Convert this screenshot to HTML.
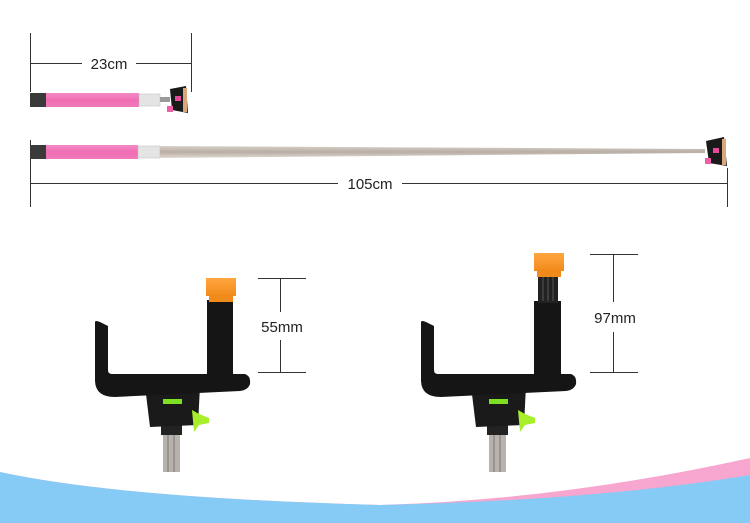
<!DOCTYPE html>
<html><head><meta charset="utf-8"><style>
html,body{margin:0;padding:0;background:#fff;}
svg{display:block;}
text{font-family:"Liberation Sans",sans-serif;fill:#222;}
</style></head><body>
<svg width="750" height="523" viewBox="0 0 750 523" xmlns="http://www.w3.org/2000/svg">
<defs>
<linearGradient id="rod" x1="0" y1="0" x2="0" y2="1"><stop offset="0" stop-color="#d8d0c8"/><stop offset="0.5" stop-color="#b8aea4"/><stop offset="1" stop-color="#e0d8d0"/></linearGradient>
<linearGradient id="pink" x1="0" y1="0" x2="0" y2="1"><stop offset="0" stop-color="#f58bc4"/><stop offset="0.5" stop-color="#ef6db4"/><stop offset="1" stop-color="#f07ab9"/></linearGradient>
<linearGradient id="org" x1="0" y1="0" x2="0" y2="1"><stop offset="0" stop-color="#ffa640"/><stop offset="1" stop-color="#f28a1a"/></linearGradient>
</defs>
<!-- top dimension 23cm -->
<g stroke="#333" stroke-width="1" fill="none">
<line x1="30.5" y1="33" x2="30.5" y2="92"/><line x1="191.5" y1="33" x2="191.5" y2="92"/>
<line x1="30" y1="63.5" x2="82" y2="63.5"/><line x1="136" y1="63.5" x2="191" y2="63.5"/>
<line x1="30.5" y1="140" x2="30.5" y2="207"/><line x1="727.5" y1="168" x2="727.5" y2="207"/>
<line x1="30" y1="183.5" x2="338" y2="183.5"/><line x1="402" y1="183.5" x2="727" y2="183.5"/>
</g>
<text x="109" y="69" font-size="15" text-anchor="middle">23cm</text>
<text x="370" y="189" font-size="15" text-anchor="middle">105cm</text>
<!-- short stick -->
<rect x="30" y="93" width="16" height="14" fill="#3a3a3a"/>
<rect x="46" y="93" width="93" height="14" fill="url(#pink)"/>
<rect x="139" y="94" width="21" height="12" fill="#e4e4e4" stroke="#bbb" stroke-width="0.5"/>
<rect x="160" y="97" width="10" height="5" fill="#999"/>
<polygon points="170,89 186,86 188,113 172,110" fill="#1a1a1a"/>
<rect x="183" y="88" width="4" height="24" fill="#d9a77a"/>
<rect x="175" y="96" width="6" height="5" fill="#e84a9a"/>
<rect x="167" y="106" width="6" height="6" fill="#ef5fa8"/>
<!-- long stick -->
<rect x="30" y="145" width="16" height="14" fill="#3a3a3a"/>
<rect x="46" y="145" width="92" height="14" fill="url(#pink)"/>
<rect x="138" y="146" width="22" height="12" fill="#e4e4e4" stroke="#bbb" stroke-width="0.5"/>
<polygon points="160,146 705,149 705,153 160,158" fill="url(#rod)"/>
<polygon points="706,141 724,137 727,166 709,163" fill="#1a1a1a"/>
<rect x="722" y="139" width="4" height="26" fill="#d9a77a"/>
<rect x="713" y="148" width="6" height="5" fill="#e84a9a"/>
<rect x="705" y="158" width="6" height="6" fill="#ef5fa8"/>
<!-- holders -->
<g id="h1">
<rect x="163" y="425" width="17" height="47" fill="#b8b2ac"/>
<line x1="168" y1="425" x2="168" y2="472" stroke="#777"/><line x1="174" y1="425" x2="174" y2="472" stroke="#777"/>
<rect x="161" y="425" width="21" height="10" fill="#222"/>
<path d="M145,386 L200,386 L198,425 L150,427 Z" fill="#1a1a1a"/>
<rect x="163" y="399" width="19" height="5" fill="#7ee022"/>
<path d="M192,410 L199,414 L209,418 L209,423 L199,425 L194,432 Z" fill="#a6ef2a"/>
<path d="M95,322 Q95,320 100,322 L108,326 L108,370 Q108,374 112,374 L245,374 Q251,376 250,384 Q248,390 240,391 L115,397 Q95,397 95,380 Z" fill="#151515"/>
</g>
<rect x="207" y="300" width="26" height="76" fill="#151515"/>
<rect x="206" y="278" width="30" height="18" fill="url(#org)"/>
<rect x="209" y="294" width="24" height="8" fill="#f08a1a"/>
<use href="#h1" transform="translate(326,0)"/>
<rect x="534" y="301" width="27" height="75" fill="#151515"/>
<rect x="538" y="275" width="20" height="28" fill="#222"/>
<line x1="543" y1="277" x2="543" y2="301" stroke="#555"/><line x1="548" y1="277" x2="548" y2="301" stroke="#555"/><line x1="553" y1="277" x2="553" y2="301" stroke="#555"/>
<rect x="534" y="253" width="30" height="18" fill="url(#org)"/>
<rect x="537" y="269" width="24" height="8" fill="#f08a1a"/>
<!-- holder dims -->
<g stroke="#333" stroke-width="1">
<line x1="258" y1="278.5" x2="306" y2="278.5"/><line x1="258" y1="372.5" x2="306" y2="372.5"/>
<line x1="280.5" y1="278" x2="280.5" y2="312"/><line x1="280.5" y1="340" x2="280.5" y2="372"/>
<line x1="590" y1="254.5" x2="638" y2="254.5"/><line x1="590" y1="372.5" x2="638" y2="372.5"/>
<line x1="613.5" y1="254" x2="613.5" y2="302"/><line x1="613.5" y1="332" x2="613.5" y2="372"/>
</g>
<text x="282" y="332" font-size="15" text-anchor="middle">55mm</text>
<text x="615" y="323" font-size="15" text-anchor="middle">97mm</text>
<!-- bottom waves -->
<path d="M0,472 Q120,498 380,505 Q560,500 750,458 L750,523 L0,523 Z" fill="#f7a6cf"/>
<path d="M0,472 Q120,498 380,505 Q600,500 750,475 L750,523 L0,523 Z" fill="#86cbf5"/>
</svg>
</body></html>
